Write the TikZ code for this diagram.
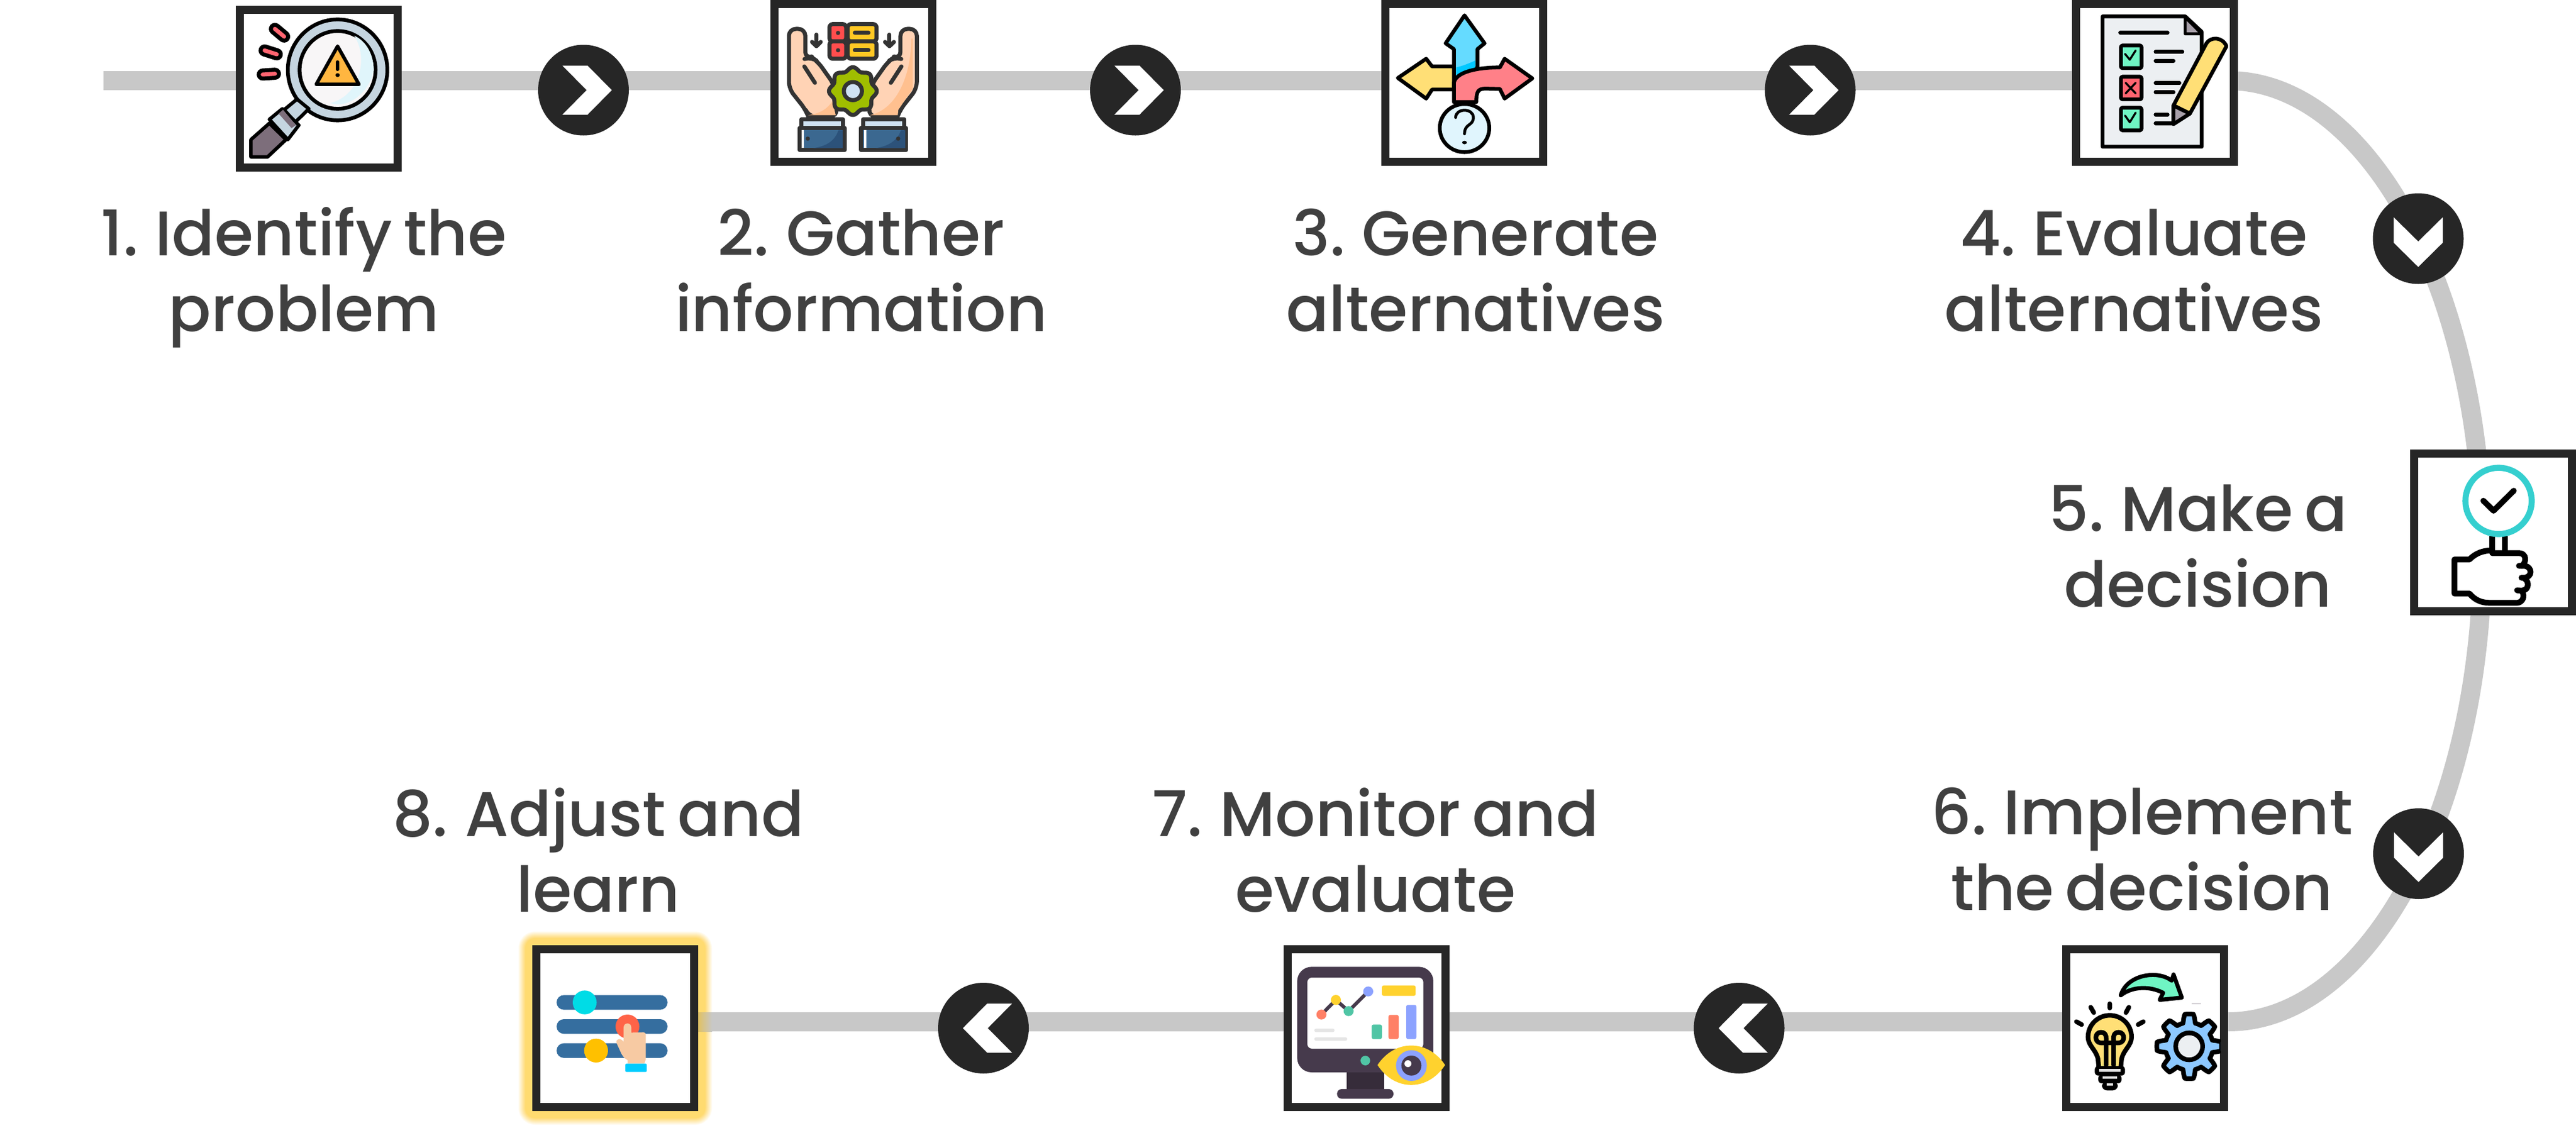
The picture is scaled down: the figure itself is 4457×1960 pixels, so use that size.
\documentclass[tikz,border=0pt]{standalone}
\usepackage{fontspec}
\setmainfont{Poppins Medium}
\definecolor{ink}{HTML}{262626}
\definecolor{trk}{HTML}{C8C8C8}
\definecolor{txt}{HTML}{404040}
\definecolor{glow}{HTML}{FFDB70}
\definecolor{o2}{HTML}{333333}
\definecolor{mon}{HTML}{463A4C}
\definecolor{mtl}{HTML}{50C5A5}
\definecolor{mor}{HTML}{FF8066}
\definecolor{mbl}{HTML}{8CA2FF}
\definecolor{myl}{HTML}{FFD22E}
\definecolor{skin}{HTML}{FFD3B5}
\definecolor{skd}{HTML}{FFC08F}
\definecolor{slv}{HTML}{3B6890}
\definecolor{sld}{HTML}{2C527A}
\definecolor{slb}{HTML}{CFE2F3}
\definecolor{bar}{HTML}{356E9F}
\definecolor{lens}{HTML}{C5D5E0}
\definecolor{lensin}{HTML}{F8F6F7}
\definecolor{lensb}{HTML}{E0F5FB}
\definecolor{hnd}{HTML}{7D6E7B}
\definecolor{redd}{HTML}{FF6470}
\definecolor{ylw}{HTML}{FFDF76}
\definecolor{cyn}{HTML}{65DBFF}
\definecolor{cynd}{HTML}{00C8FF}
\definecolor{pnk}{HTML}{FF8088}
\definecolor{mint}{HTML}{6FF5C3}
\definecolor{gry}{HTML}{A79FA9}
\definecolor{pap}{HTML}{ECEFF2}
\definecolor{warn}{HTML}{FFB640}
\definecolor{grn}{HTML}{A0BE00}
\definecolor{binr}{HTML}{FF4D4D}
\definecolor{biny}{HTML}{FFC824}
\definecolor{qfill}{HTML}{E0F5FD}
\definecolor{tealc}{HTML}{35CFCF}
\definecolor{gearb}{HTML}{8CC8FF}
\definecolor{knc}{HTML}{00DCE6}
\definecolor{knr}{HTML}{FF6347}
\definecolor{kny}{HTML}{FFC000}
\definecolor{hand}{HTML}{F7CAA3}
\definecolor{cuff}{HTML}{00CCFF}
\definecolor{stand}{HTML}{362C3A}
\definecolor{bargr}{HTML}{E5E5E5}
\tikzset{
  x=1pt,y=-1pt,
  bx/.style={draw=ink,line width=14pt,fill=white,minimum size=273pt,inner sep=0pt,rectangle},
  bub/.style={circle,fill=ink,minimum size=157pt,inner sep=0pt},
  lab/.style={font={\fontsize{109}{131}\selectfont\spaceskip=20pt\relax},align=center,inner sep=0pt,text=txt},
  track/.style={draw=trk,line width=33pt},
  k/.style={draw=black,line cap=round,line join=round},
  q/.style={draw=o2,line width=7pt,line cap=round,line join=round},
}
\newcommand{\chevR}[1]{\fill[white,shift={(#1)}] (-36.5,-42.5) -- (7,-42.5) -- (49,0) -- (7,42.5) -- (-36.5,42.5) -- (5.5,0) -- cycle;}
\newcommand{\chevL}[1]{\fill[white,shift={(#1)}] (49.5,-42.5) -- (6.5,-42.5) -- (-35.5,0) -- (6.5,42.5) -- (49.5,42.5) -- (7.5,0) -- cycle;}
\newcommand{\chevD}[1]{\fill[white,shift={(#1)}] (-42.5,-37) -- (0,5) -- (42.5,-37) -- (42.5,7) -- (0,49) -- (-42.5,7) -- cycle;}
\begin{document}
\begin{tikzpicture}
\useasboundingbox (0,0) rectangle (4457,1960);
\fill[white] (0,0) rectangle (4457,1960);
% track
\coordinate (s) at (179,139.5);
\coordinate (t1) at (3855,139.5);
\coordinate (m) at (4295,954);
\coordinate (t2) at (3855,1768.5);
\coordinate (e) at (1208,1768.5);
\draw[track] (s) -- (t1) .. controls (4098,139.5) and (4295,504.2) .. (m) .. controls (4295,1403.8) and (4098,1768.5) .. (t2) -- (e);
% glow of box 8
\foreach \g in {24,23,...,12}{
  \pgfmathsetmacro\op{1/(\g-11)}
  \fill[glow,opacity=\op,rounded corners={\g*1pt+5pt}] ({921-\g},{1636-\g}) rectangle ({1208+\g},{1923+\g});
}
\shade[left color=black!12!glow,right color=trk] (1208,1752) rectangle (1232,1785);
% boxes
\node[bx] (box1) at (551.5,153.5) {};
\node[bx] (box2) at (1476.5,143.5) {};
\node[bx] (box3) at (2533.5,143.5) {};
\node[bx] (box4) at (3728.5,143.5) {};
\node[bx] (box5) at (4313.5,921.5) {};
\node[bx] (box6) at (3711.5,1779.5) {};
\node[bx] (box7) at (2364.5,1779.5) {};
\node[bx] (box8) at (1064.5,1779.5) {};
% bubbles
\node[bub] (b1) at (1009.5,156) {};
\node[bub] (b2) at (1964.5,156) {};
\node[bub] (b3) at (3132,156) {};
\node[bub] (b4) at (4184,413) {};
\node[bub] (b5) at (4184.5,1477.5) {};
\node[bub] (b6) at (3009,1779.5) {};
\node[bub] (b7) at (1701.5,1779.5) {};
\chevR{b1}\chevR{b2}\chevR{b3}
\chevD{b4}\chevD{b5}
\chevL{b6}\chevL{b7}
% labels
\node[lab] (l1) at (526,481.3) {\strut 1. Identify the\\\strut problem};
\node[lab] (l2) at (1490,481.3) {\strut 2. Gather\\\strut information};
\node[lab] (l3) at (2553,481.3) {\strut 3. Generate\\\strut alternatives};
\node[lab] (l4) at (3692,481.3) {\strut 4. Evaluate\\\strut alternatives};
\node[lab] (l5) at (3803,958.3) {\strut 5. Make a\\\strut decision};
\node[lab] (l6) at (3706,1483.3) {\strut 6. Implement\\\strut the decision};
\node[lab] (l7) at (2380,1486.3) {\strut 7. Monitor and\\\strut evaluate};
\node[lab] (l8) at (1035,1486.3) {\strut 8. Adjust and\\\strut learn};
% ---------- icon 1
\begin{scope}[shift={(380,0)},x=0.6378pt,y=-0.3333pt]
  \fill[lens,k,line width=6.5pt] (320,363) circle[x radius=135,y radius=262];
  \fill[lensin,k,line width=6.5pt] (320,363) circle[x radius=103,y radius=202];
  \fill[lensb] (365,185) .. controls (405,300) and (380,500) .. (300,535) .. controls (350,570) and (410,470) .. (418,363) .. controls (418,290) and (400,215) .. (365,185) -- cycle;
  \fill[lens,k,line width=6pt] (210,515) -- (175,570) -- (205,635) -- (242,565) -- cycle;
  \fill[lens,k,line width=6pt] (135,620) -- (170,565) -- (215,650) -- (185,725) -- cycle;
  \fill[hnd,k,line width=6pt] (135,640) -- (85,725) -- (85,815) -- (130,815) -- (180,725) -- cycle;
  \fill[hnd] (160,590) -- (172,570) -- (207,650) -- (195,665) -- cycle;
  \fill[warn,k,line width=6pt] (320,240) -- (262,438) -- (378,438) -- cycle;
  \draw[k,line width=6pt] (320,322) -- (320,360);
  \fill (320,390) circle[x radius=6,y radius=10];
  \draw[k,line width=21pt] (150,150) -- (175,190);
  \draw[redd,line cap=round,line width=7pt] (150,150) -- (175,190);
  \draw[k,line width=21pt] (122,262) -- (155,282);
  \draw[redd,line cap=round,line width=7pt] (122,262) -- (155,282);
  \draw[k,line width=21pt] (117,387) -- (150,383);
  \draw[redd,line cap=round,line width=7pt] (117,387) -- (150,383);
\end{scope}
% ---------- icon 2
\begin{scope}[shift={(1320,0)},x=0.3333pt,y=-0.3333pt]
  \foreach \fl in {1,-1}{
  \begin{scope}[shift={({467-467*\fl},0)},xscale=\fl]
    \draw[q,fill=skin,rounded corners=12pt] (235,605) -- (222,570) -- (135,460) -- (135,150) -- (220,150) -- (220,305) -- (250,295) -- (285,320) -- (370,440) -- (385,605) -- cycle;
    \draw[q] (215,345) -- (270,430);
    \fill[slb] (205,625) rectangle (415,665);
    \draw[q] (200,620) rectangle (415,665);
    \draw[q,fill=slv] (190,665) rectangle (425,780);
  \end{scope}}
  \fill[skd] (235,598) .. controls (300,590) and (340,560) .. (360,525) -- (378,598) -- cycle;
  \fill[skd] (555,598) .. controls (690,570) and (770,400) .. (770,200) -- (778,200) -- (778,460) -- (703,570) -- (700,598) -- cycle;
  \fill[sld] (262,769) .. controls (330,760) and (375,730) .. (392,676) -- (414,676) -- (414,769) -- cycle;
  \fill[sld] (586,769) .. controls (650,760) and (700,730) .. (716,676) -- (739,676) -- (739,769) -- cycle;
  \fill[white] (200,676) rectangle (212,769);
  \fill[white] (524,676) rectangle (536,769);
  \fill[o2] (233,720) circle[radius=11];
  \fill[o2] (702,720) circle[radius=11];
  % binders
  \draw[q,fill=binr,rounded corners=6pt] (345,125) rectangle (432,215);
  \draw[q,fill=binr,rounded corners=6pt] (345,215) rectangle (432,305);
  \draw[q,fill=biny,rounded corners=6pt] (440,125) rectangle (590,215);
  \draw[q,fill=biny,rounded corners=6pt] (440,215) rectangle (590,305);
  \fill[o2] (390,171) circle[radius=11];
  \fill[o2] (390,261) circle[radius=11];
  \draw[q] (477,171) -- (548,171);
  \draw[q] (477,261) -- (548,261);
  % arrows
  \draw[q] (278,180) -- (278,238);
  \draw[q] (255,218) -- (278,240) -- (300,218);
  \draw[q] (657,180) -- (657,238);
  \draw[q] (634,218) -- (657,240) -- (680,218);
  % gear
  \draw[q,fill=grn] plot[domain=0:360,samples=145,smooth] ({467+(115+9*cos(8*\x))*cos(\x)},{473+(115+9*cos(8*\x))*sin(\x)}) -- cycle;
  \draw[q,fill=slb] (467,473) circle[radius=47];
\end{scope}
% ---------- icons 3 and 4
\begin{scope}[shift={(2340,0)},x=1.0204pt,y=-0.3333pt]
  \fill[cyn,k,line width=6.5pt] (190,80) -- (158,225) -- (172,255) -- (172,430) -- (212,350) -- (212,255) -- (224,225) -- cycle;
  \fill[cynd] (176,420) -- (176,350) .. controls (190,340) and (200,325) .. (208,315) -- (208,350) -- cycle;
  \fill[ylw,k,line width=6.5pt] (125,305) -- (77,405) -- (125,512) -- (135,465) -- (172,465) -- (172,345) -- (135,345) -- cycle;
  \fill[pnk,k,line width=6.5pt] (172,530) -- (172,430) .. controls (175,375) and (210,350) .. (250,350) -- (258,305) -- (305,407) -- (258,512) -- (250,462) -- (225,460) .. controls (214,462) and (210,470) .. (210,530) -- cycle;
  \fill[qfill,k,line width=6.5pt] (190,665) circle[x radius=42,y radius=125];
  \draw[k,line width=5pt] (175,610) .. controls (175,560) and (205,560) .. (205,610) .. controls (205,655) and (190,640) .. (190,695);
  \fill (190,740) circle[x radius=4,y radius=9];
  % doc
  \fill[pap,k,line width=6.5pt] (1272,85) -- (1412,85) -- (1440,165) -- (1440,762) -- (1272,762) -- cycle;
  \fill[gry,k,line width=5pt] (1412,90) -- (1412,176) -- (1440,176) -- cycle;
  \draw[k,line width=7pt] (1302,170) -- (1382,170);
  \foreach \yy/\col in {230/mint,392/redd,553/mint}{
    \fill[\col,k,line width=6.5pt,rounded corners=3pt] (1303,\yy+6) rectangle (1338,\yy+124);
  }
  \draw[k,line width=3.5pt] (1310,280) -- (1318,310) -- (1328,262);
  \draw[k,line width=3.5pt] (1310,600) -- (1318,635) -- (1328,585);
  \draw[k,line width=3.5pt] (1311,430) -- (1328,485) (1328,430) -- (1311,485);
  \draw[k,line width=7pt] (1362,270) -- (1407,270) (1362,316) -- (1392,316) (1362,432) -- (1402,432) (1362,478) -- (1392,478) (1362,595) -- (1382,595) (1362,640) -- (1392,640);
  \fill[ylw,k,line width=6.5pt] (1392,548) -- (1448,225) .. controls (1455,190) and (1475,190) .. (1482,240) -- (1420,590) -- cycle;
  \fill[gry,k,line width=6.5pt] (1392,548) -- (1420,590) -- (1392,645) -- cycle;
\end{scope}
% ---------- icon 5
\begin{scope}[shift={(4100,750)},x=0.3333pt,y=-0.3333pt]
  \draw[draw=black,line width=10pt] (636,535) -- (636,622) (702,535) -- (702,622);
  \draw[tealc,line width=10.5pt] (669,351) circle[radius=172];
  \draw[k,line width=10pt] (590,350) -- (643,402) -- (748,298);
  \draw[k,line width=10pt] (636,608) .. controls (590,608) and (550,622) .. (518,655) -- (440,655) -- (440,832) -- (518,832) .. controls (545,865) and (580,880) .. (620,880) -- (765,880) .. controls (790,880) and (810,850) .. (790,818) -- (765,815);
  \draw[k,line width=10pt] (636,622) -- (775,622) .. controls (815,622) and (815,670) .. (790,688) -- (775,688);
  \draw[k,line width=10pt] (790,688) -- (805,688) .. controls (845,695) and (845,745) .. (805,750) -- (788,750);
  \draw[k,line width=10pt] (805,755) .. controls (830,770) and (825,815) .. (795,815);
\end{scope}
% ---------- icon 6
\begin{scope}[shift={(3520,1610)},x=0.3333pt,y=-0.3333pt]
  \fill[mint,k,line width=7pt] (448,338) .. controls (480,230) and (640,205) .. (712,262) -- (722,230) -- (765,350) -- (650,362) -- (668,325) .. controls (600,290) and (510,290) .. (448,338) -- cycle;
  \fill[gry] (815,380) rectangle (865,384);
  \fill[ylw,k,line width=8pt] (335,725) -- (330,670) .. controls (320,620) and (278,600) .. (278,555) .. controls (278,490) and (330,442) .. (391,442) .. controls (452,442) and (504,490) .. (504,555) .. controls (504,600) and (462,620) .. (452,670) -- (447,725) -- cycle;
  \draw[k,line width=8pt] (372,700) -- (372,585) (412,700) -- (412,585) (345,585) -- (440,585);
  \draw[k,line width=8pt] (372,585) -- (345,585) .. controls (310,585) and (310,530) .. (345,530) .. controls (380,530) and (372,570) .. (372,585);
  \draw[k,line width=8pt] (412,585) -- (437,585) .. controls (472,585) and (472,530) .. (437,530) .. controls (402,530) and (412,570) .. (412,585);
  \fill[black,rounded corners=6pt] (313,705) rectangle (470,755);
  \fill[black,rounded corners=6pt] (331,750) rectangle (452,795);
  \fill[black,rounded corners=9pt] (350,785) rectangle (433,832);
  \fill[bargr] (335,721) rectangle (447,735);
  \fill[bargr] (354,759) rectangle (428,772);
  \fill[bargr] (375,796) rectangle (408,808);
  \draw[k,line width=8pt] (391,382) -- (391,404) (292,400) -- (308,428) (490,400) -- (475,428) (218,475) -- (245,490) (565,475) -- (538,490);
  \begin{scope}
    \clip (560,380) rectangle (968,820);
    \draw[k,line width=8pt,fill=gearb] plot[domain=0:360,samples=241] ({803+(146+22*min(1,max(-1,2.2*cos(8*\x))))*cos(\x)},{603+(146+22*min(1,max(-1,2.2*cos(8*\x))))*sin(\x)}) -- cycle;
  \end{scope}
  \draw[k,line width=8pt,fill=pap] (803,603) circle[radius=70];
\end{scope}
% ---------- icon 7
\begin{scope}[shift={(2180,1610)},x=0.3333pt,y=-0.3333pt]
  \fill[stand] (450,730) rectangle (645,835);
  \fill[mon,rounded corners=25pt] (193,190) rectangle (900,738);
  \fill[white,rounded corners=8pt] (246,246) rectangle (848,615);
  \fill[mon,rounded corners=8pt] (400,875) -- (400,825) -- (693,825) -- (693,875) -- cycle;
  \draw[mon,line width=6pt] (319,438) -- (394,362) -- (460,420) -- (562,318);
  \fill[mor] (319,438) circle[radius=26];
  \fill[myl] (394,362) circle[radius=26];
  \fill[mtl] (460,420) circle[radius=26];
  \fill[mbl] (562,318) circle[radius=26];
  \fill[myl,rounded corners=3pt] (633,287) rectangle (808,341);
  \fill[mtl,rounded corners=3pt] (580,490) rectangle (633,565);
  \fill[mor,rounded corners=3pt] (667,440) rectangle (720,565);
  \fill[mbl,rounded corners=3pt] (759,388) rectangle (812,565);
  \fill[bargr,rounded corners=3pt] (282,511) rectangle (387,529);
  \fill[bargr,rounded corners=3pt] (282,556) rectangle (453,574);
  \fill[mtl] (547,677) circle[radius=25];
  \fill[myl] (610,700) .. controls (700,565) and (870,565) .. (961,700) .. controls (870,838) and (700,838) .. (610,700) -- cycle;
  \fill[mbl] (786,703) circle[radius=80];
  \fill[mon] (786,703) circle[radius=52];
  \fill[white] (768,693) circle[radius=18];
\end{scope}
% ---------- icon 8
\begin{scope}[shift={(880,1590)},x=0.3333pt,y=-0.3333pt]
  \fill[bar,rounded corners=12.6pt] (249,397) rectangle (825,473);
  \fill[bar,rounded corners=12.6pt] (249,522) rectangle (825,598);
  \fill[bar,rounded corners=12.6pt] (249,647) rectangle (825,723);
  \fill[knc] (395,435) circle[radius=62];
  \fill[knr] (617,560) circle[radius=62];
  \fill[kny] (454,685) circle[radius=62];
  \fill[hand] (597,640) -- (597,565) .. controls (597,537) and (637,537) .. (637,565) -- (637,592) -- (700,590) .. controls (708,590) and (712,595) .. (712,605) -- (712,730) -- (705,752) -- (618,752) -- (618,735) .. controls (600,725) and (590,710) .. (585,700) -- (560,645) .. controls (555,625) and (580,615) .. (597,640) -- cycle;
  \fill[cuff,rounded corners=2pt] (606,753) rectangle (717,796);
\end{scope}
\end{tikzpicture}
\end{document}
